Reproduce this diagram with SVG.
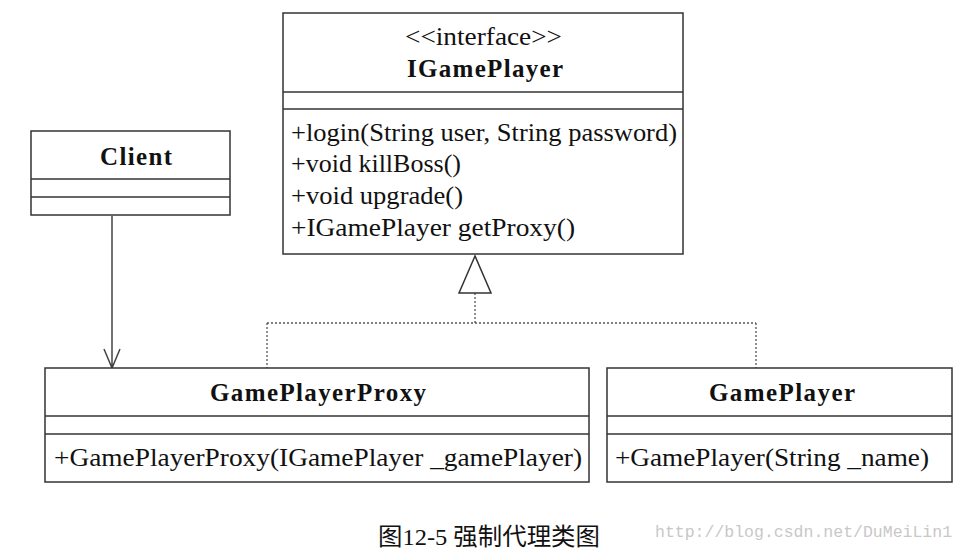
<svg xmlns="http://www.w3.org/2000/svg" width="966" height="550" viewBox="0 0 966 550">
<style>
.box{fill:#fff;stroke:#333;stroke-width:1.5}
.sep{stroke:#333;stroke-width:1.5}
.t{font-family:"Liberation Serif","Times New Roman",serif;font-size:25px;fill:#111}
.b{font-family:"Liberation Serif","Times New Roman",serif;font-size:25px;font-weight:bold;fill:#111;text-anchor:middle}
.dot{fill:none;stroke:#555;stroke-width:1.3;stroke-dasharray:2 2}
.ln{fill:none;stroke:#444;stroke-width:1.5}
</style>
<rect width="966" height="550" fill="#fff"/>
<g id="connectors">
<path class="ln" d="M112,216 V368 M104,349 L112,368 L120,349"/>
<path class="dot" d="M475,293 V323 M267,323 H756 M267,323 V368 M756,323 V368"/>
<polygon points="475,256 459,293 491,293" fill="#fff" stroke="#333" stroke-width="1.5"/>
</g>
<g id="IGamePlayer">
<rect class="box" x="283" y="13" width="400" height="241"/>
<line class="sep" x1="283" y1="92" x2="683" y2="92"/>
<line class="sep" x1="283" y1="109" x2="683" y2="109"/>
<text class="t" x="405" y="45" textLength="157" lengthAdjust="spacingAndGlyphs">&lt;&lt;interface&gt;&gt;</text>
<text class="b" x="485" y="77" textLength="156" lengthAdjust="spacing">IGamePlayer</text>
<text class="t" x="291" y="141" textLength="386" lengthAdjust="spacingAndGlyphs">+login(String user, String password)</text>
<text class="t" x="291" y="172" textLength="170" lengthAdjust="spacingAndGlyphs">+void killBoss()</text>
<text class="t" x="291" y="204" textLength="172" lengthAdjust="spacingAndGlyphs">+void upgrade()</text>
<text class="t" x="291" y="236" textLength="284" lengthAdjust="spacingAndGlyphs">+IGamePlayer getProxy()</text>
</g>
<g id="Client">
<rect class="box" x="31" y="131" width="199" height="84"/>
<line class="sep" x1="31" y1="179" x2="230" y2="179"/>
<line class="sep" x1="31" y1="197" x2="230" y2="197"/>
<text class="b" x="136" y="165" textLength="72" lengthAdjust="spacing">Client</text>
</g>
<g id="GamePlayerProxy">
<rect class="box" x="45" y="368" width="544" height="114"/>
<line class="sep" x1="45" y1="416" x2="589" y2="416"/>
<line class="sep" x1="45" y1="434" x2="589" y2="434"/>
<text class="b" x="318" y="401" textLength="216" lengthAdjust="spacing">GamePlayerProxy</text>
<text class="t" x="54" y="466" textLength="528" lengthAdjust="spacingAndGlyphs">+GamePlayerProxy(IGamePlayer _gamePlayer)</text>
</g>
<g id="GamePlayer">
<rect class="box" x="607" y="368" width="345" height="114"/>
<line class="sep" x1="607" y1="416" x2="952" y2="416"/>
<line class="sep" x1="607" y1="434" x2="952" y2="434"/>
<text class="b" x="782" y="401" textLength="146" lengthAdjust="spacing">GamePlayer</text>
<text class="t" x="615" y="466" textLength="314" lengthAdjust="spacingAndGlyphs">+GamePlayer(String _name)</text>
</g>
<text x="489" y="545" text-anchor="middle" textLength="222" lengthAdjust="spacingAndGlyphs" font-family="'Liberation Serif','Noto Sans CJK SC',serif" font-size="24" fill="#111">图12-5 强制代理类图</text>
<text x="655" y="537" font-family="'Liberation Mono','DejaVu Sans Mono',monospace" font-size="16.5" fill="#c8c8c8">http://blog.csdn.net/DuMeiLin1</text>
</svg>
